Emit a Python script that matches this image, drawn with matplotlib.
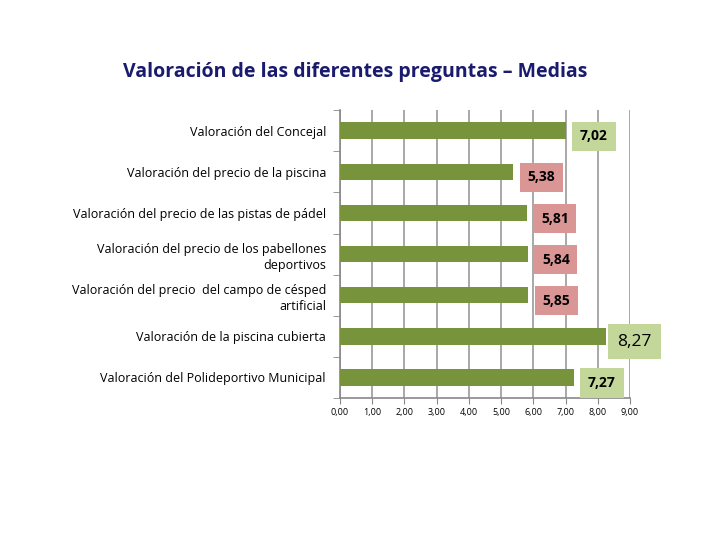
import matplotlib.pyplot as plt
import numpy as np

# datos
categorias = ['Valoración del Concejal',
              'Valoración del precio de la piscina',
              'Valoración del precio de las pistas de pádel',
              'Valoración del precio de los pabellones\ndeportivos',
              'Valoración del precio  del campo de césped\nartificial',
              'Valoración de la piscina cubierta',
              'Valoración del Polideportivo Municipal']
medias = [7.02, 5.38, 5.81, 5.84, 5.85, 8.27, 7.27]
xticks = np.arange(0, 10, 1)

plt.rcParams['font.family'] = ['Open Sans', 'DejaVu Sans']

fig = plt.figure(figsize=(7.2, 5.4), dpi=100)
ax = fig.add_axes([0.472, 0.263, 0.403, 0.533])

y = np.arange(len(categorias))
ax.barh(y, medias, height=0.4, color='#77933c', zorder=3)
ax.set_ylim(len(categorias) - 0.5, -0.5)
ax.set_xlim(0, 9)

# etiquetas de valor
for i, v in enumerate(medias):
    verde = v >= 7
    fc = '#c4d79b' if verde else '#da9694'
    size = 12.5 if v > 8 else 10
    peso = 'normal' if v > 8 else 'bold'
    ax.annotate(f'{v:.2f}'.replace('.', ','), (v, i), xytext=(20, -4),
                textcoords='offset points', ha='center', va='center',
                fontsize=size, fontweight=peso, color='black', zorder=4,
                bbox=dict(boxstyle='square,pad=0.55', fc=fc, ec='none'),
                annotation_clip=False)

ax.set_yticks(y)
ax.set_yticklabels(categorias, fontsize=9, ha='right', linespacing=1.3)
ax.tick_params(axis='y', length=0, pad=10)
ax.set_yticks(np.arange(-0.5, len(categorias), 1), minor=True)
ax.tick_params(axis='y', which='minor', length=5, color='#888888')

ax.set_xticks(xticks)
ax.set_xticklabels([f'{t:.2f}'.replace('.', ',') for t in xticks], fontsize=6.5)
ax.tick_params(axis='x', length=4, color='#888888')

ax.grid(axis='x', color='#999999', linewidth=1.2, zorder=0)
for s in ['top', 'right']:
    ax.spines[s].set_visible(False)
ax.spines['left'].set_color('#888888')
ax.spines['bottom'].set_color('#888888')
ax.spines['left'].set_linewidth(1.2)
ax.spines['bottom'].set_linewidth(1.2)

fig.text(0.493, 0.867, 'Valoración de las diferentes preguntas – Medias',
         ha='center', va='center', fontsize=14, fontweight='bold', color='#1a1a6e')

fig.savefig('out.png', dpi=100)
